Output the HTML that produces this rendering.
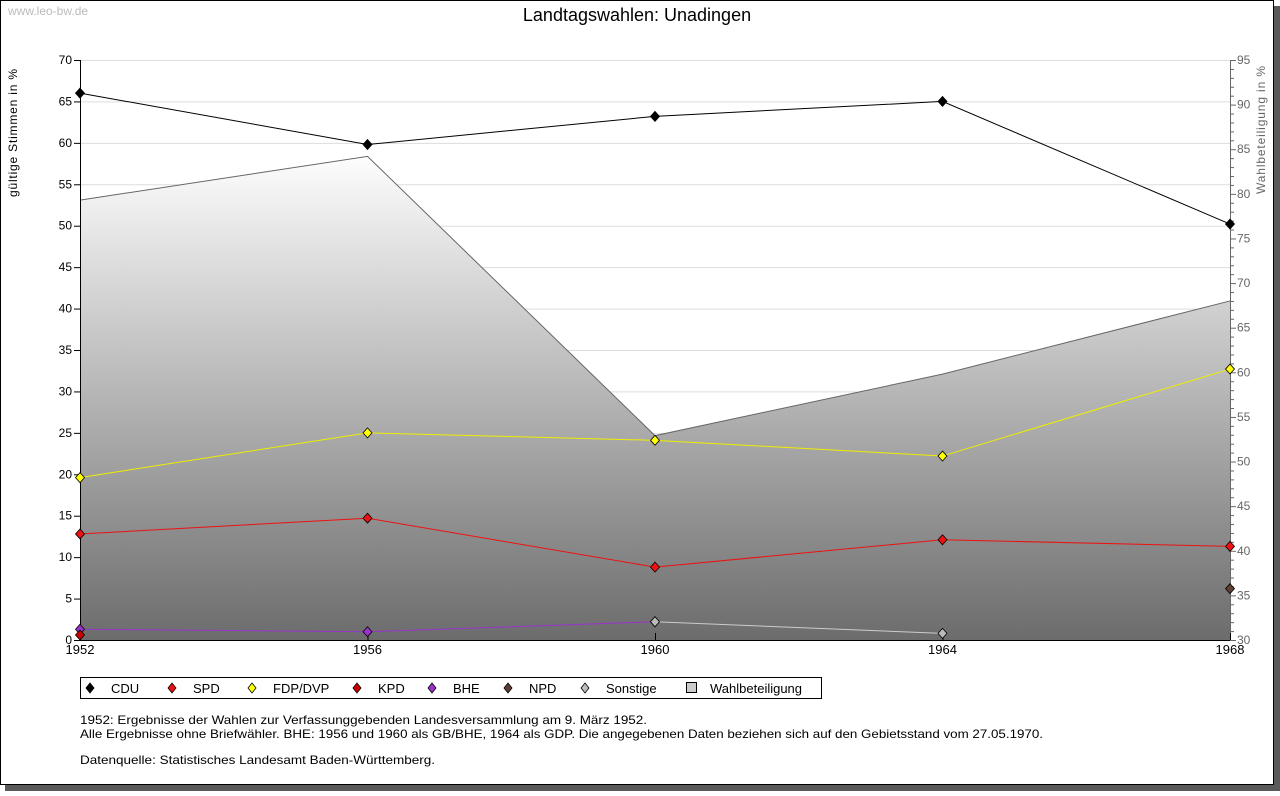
<!DOCTYPE html>
<html><head><meta charset="utf-8"><style>
body{margin:0;background:#fff;width:1280px;height:791px;overflow:hidden;font-family:"Liberation Sans",sans-serif}
</style></head><body>
<svg width="1280" height="791" xmlns="http://www.w3.org/2000/svg" font-family="Liberation Sans, sans-serif">
<defs><linearGradient id="g" gradientUnits="userSpaceOnUse" x1="0" y1="150" x2="0" y2="640"><stop offset="0" stop-color="#ffffff"/><stop offset="1" stop-color="#6c6c6c"/></linearGradient></defs>
<rect x="5" y="6" width="1275" height="785" fill="#5a5a5a"/>
<rect x="0.5" y="0.5" width="1273" height="784" fill="#fff" stroke="#000"/>
<text x="8" y="15" font-size="12" fill="#bbb">www.leo-bw.de</text>
<text x="637" y="21" font-size="18" text-anchor="middle">Landtagswahlen: Unadingen</text>
<g id="grid"></g><g id="area"></g><g id="axes"></g><g id="series"></g>
<text transform="translate(17,133) rotate(-90)" font-size="12" text-anchor="middle" textLength="128">gültige Stimmen in %</text>
<text transform="translate(1265,130) rotate(-90)" font-size="12" fill="#666" text-anchor="middle" textLength="128">Wahlbeteiligung in %</text>
<rect x="80.5" y="677.5" width="741" height="21" fill="#fff" stroke="#000"/>
<g id="legend"></g>
<g font-size="12">
<text x="80" y="724" textLength="567" lengthAdjust="spacingAndGlyphs">1952: Ergebnisse der Wahlen zur Verfassunggebenden Landesversammlung am 9. März 1952.</text>
<text x="80" y="738" textLength="963" lengthAdjust="spacingAndGlyphs">Alle Ergebnisse ohne Briefwähler. BHE: 1956 und 1960 als GB/BHE, 1964 als GDP. Die angegebenen Daten beziehen sich auf den Gebietsstand vom 27.05.1970.</text>
<text x="80" y="764" textLength="355" lengthAdjust="spacingAndGlyphs">Datenquelle: Statistisches Landesamt Baden-Württemberg.</text>
</g>
</svg>
<script>
const years=[1952,1956,1960,1964,1968];
const cdu=[66,59.8,63.2,65,50.2];
const spd=[12.8,14.7,8.8,12.1,11.3];
const fdp=[19.6,25.0,24.1,22.2,32.7];
const kpd=[0.6,null,null,null,null];
const bhe=[1.3,1.0,2.2,null,null];
const npd=[null,null,null,null,6.2];
const sonst=[null,null,2.2,0.8,null];
const turnout=[79.3,84.2,52.9,59.8,68.0];
const leftTicks=[0,5,10,15,20,25,30,35,40,45,50,55,60,65,70];
const rightTicks=[30,35,40,45,50,55,60,65,70,75,80,85,90,95];
const NS="http://www.w3.org/2000/svg";
const X=y=>80+(y-1952)/16*1150;
const Y=v=>640-v/70*580;
const Y2=v=>640-(v-30)/65*580;
function mk(t,a,p){const e=document.createElementNS(NS,t);for(const k in a)e.setAttribute(k,a[k]);document.getElementById(p).appendChild(e);return e;}
leftTicks.forEach(v=>{
 const l=mk('line',{x1:80,x2:1230,y1:Y(v)+.5,y2:Y(v)+.5,stroke:'#ddd'},'grid');
 
 
 mk('line',{x1:74,x2:80,y1:Y(v)+.5,y2:Y(v)+.5,stroke:'#000'},'axes');
 const t=mk('text',{x:72,y:Y(v)+4,'font-size':12,'text-anchor':'end'},'axes');t.textContent=v;
 
 
});
for(let v=30;v<=95;v++){const y=Y2(v)+.5;mk('line',{x1:1230,x2:v%5?1234:1236,y1:y,y2:y,stroke:'#666'},'axes');}
rightTicks.forEach(v=>{const t=mk('text',{x:1237,y:Y2(v)+4,'font-size':12,fill:'#666'},'axes');t.textContent=v;
 
 });
let d='M'+X(years[0])+' 640';years.forEach((y,i)=>d+=' L'+X(y)+' '+Y2(turnout[i]));d+=' L'+X(1968)+' 640Z';
const ar=mk('path',{d:d,fill:'url(#g)'},'area');


let d2='';years.forEach((y,i)=>d2+=(i?' L':'M')+X(y)+' '+Y2(turnout[i]));
mk('path',{d:d2,fill:'none',stroke:'#666'},'area');
mk('line',{x1:80.5,x2:80.5,y1:60,y2:640,stroke:'#000'},'axes');
mk('line',{x1:1230.5,x2:1230.5,y1:60,y2:640,stroke:'#666'},'axes');
mk('line',{x1:80,x2:1230,y1:640.5,y2:640.5,stroke:'#000'},'axes');
years.forEach(y=>{mk('line',{x1:X(y)+.5,x2:X(y)+.5,y1:633,y2:640,stroke:'#000'},'axes');
 const t=mk('text',{x:X(y),y:654,'font-size':13,'text-anchor':'middle'},'axes');t.textContent=y;
 
 });
function series(name,vals,col,lineCol){
 let dd='',prev=false;vals.forEach((v,i)=>{if(v==null){prev=false;return;}dd+=(prev?' L':' M')+X(years[i])+' '+Y(v);prev=true;});
 if(dd.split(/[ML]/).length>2){const p=mk('path',{d:dd,fill:'none',stroke:lineCol||col,'stroke-width':1},'series');
  
  }
 vals.forEach((v,i)=>{if(v==null)return;const x=X(years[i]),y=Y(v);
  const m=mk('path',{d:`M${x} ${y-5}L${x+4.5} ${y}L${x} ${y+5}L${x-4.5} ${y}Z`,fill:col,stroke:'#000','stroke-width':.8},'series');
  
  });
}
series('bhe',bhe,'#9933cc');
series('sonstige',sonst,'#bbb','#ccc');
series('kpd',kpd,'#cc0000');
series('npd',npd,'#5c4033');
series('spd',spd,'#ee1111');
series('fdp',fdp,'#ffff00','#eeee00');
series('cdu',cdu,'#000');
const legItems=[['CDU','#000',90],['SPD','#ee1111',172],['FDP/DVP','#ffff00',252],['KPD','#cc0000',357],['BHE','#9933cc',432],['NPD','#5c4033',508],['Sonstige','#bbb',585]];
legItems.forEach(([n,c,x])=>{const y=688;
 mk('path',{d:`M${x} ${y-5}L${x+4} ${y}L${x} ${y+5}L${x-4} ${y}Z`,fill:c,stroke:'#000','stroke-width':.8},'legend');
 const t=mk('text',{x:x+21,y:y+5,'font-size':13},'legend');t.textContent=n;
 
 });
mk('rect',{x:686.5,y:682.5,width:10,height:10,fill:'#ccc',stroke:'#000'},'legend');
const tw=mk('text',{x:710,y:693,'font-size':13},'legend');tw.textContent='Wahlbeteiligung';


</script>
</body></html>
